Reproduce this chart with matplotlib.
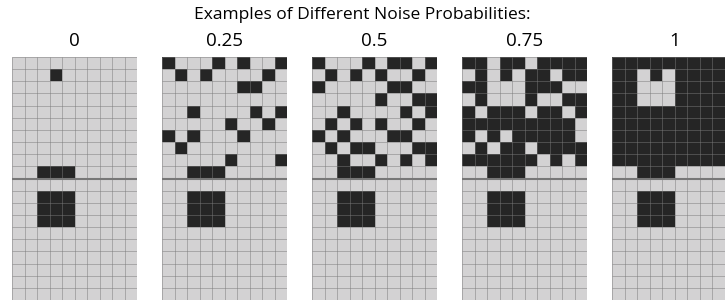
import numpy as np
import matplotlib.pyplot as plt
from matplotlib.colors import ListedColormap

# Probabilidades de ruido (titulos de cada panel)
probs = ['0', '0.25', '0.5', '0.75', '1']

# Mitad superior de cada grilla (10 filas x 10 columnas), '#' = celda oscura
top_p0 = [
    '..........',
    '...#......',
    '..........',
    '..........',
    '..........',
    '..........',
    '..........',
    '..........',
    '..........',
    '..###.....',
]
top_p25 = [
    '#...#.#..#',
    '.#.#....#.',
    '......##..',
    '..........',
    '..#....#.#',
    '.....#..#.',
    '#.#...#...',
    '.#........',
    '.....#...#',
    '..###.....',
]
top_p50 = [
    '#...#.##.#',
    '.#.#.#..#.',
    '#.....##..',
    '.....#..##',
    '..#....#.#',
    '.#.#.#..#.',
    '#.#...##..',
    '.#.##...##',
    '..#..#.#.#',
    '..###.....',
]
top_p75 = [
    '##.##.####',
    '.#.#.##.##',
    '##...###..',
    '.#...#..##',
    '#.###.##.#',
    '#########.',
    '#.#.#####.',
    '.#.##.####',
    '######.#.#',
    '..###.....',
]
top_p100 = [
    '##########',
    '##.#.#####',
    '##...#####',
    '##...#####',
    '##########',
    '##########',
    '##########',
    '##########',
    '##########',
    '..###.....',
]

# Mitad inferior, igual en todos los paneles
bottom = [
    '..........',
    '..###.....',
    '..###.....',
    '..###.....',
    '..........',
    '..........',
    '..........',
    '..........',
    '..........',
    '..........',
]

tops = [top_p0, top_p25, top_p50, top_p75, top_p100]


def to_array(rows):
    return np.array([[1 if c == '#' else 0 for c in r] for r in rows])


cmap = ListedColormap(['#d3d2d3', '#252525'])

W, H = 725, 302
fig = plt.figure(figsize=(W / 100, H / 100), dpi=100)

fig.text(362 / W, 1 - 15 / H, 'Examples of Different Noise Probabilities:',
         ha='center', va='center', fontsize=12.5, family='Open Sans')

for i, (p, top) in enumerate(zip(probs, tops)):
    grid = to_array(top + bottom)
    nr, nc = grid.shape
    left = 12 + 150 * i
    ax = fig.add_axes([left / W, 2 / H, 125 / W, 243 / H])
    ax.pcolormesh(grid, cmap=cmap, vmin=0, vmax=1, edgecolors='none')
    # lineas de la grilla, semitransparentes para que se vean en ambos tonos
    ax.hlines(np.arange(nr + 1), 0, nc, color='#797979', alpha=0.57, lw=0.6)
    ax.vlines(np.arange(nc + 1), 0, nr, color='#797979', alpha=0.57, lw=0.6)
    ax.axhline(10, color='#777777', lw=1.5)
    ax.set_xlim(0, nc)
    ax.set_ylim(nr, 0)
    ax.set_xticks([])
    ax.set_yticks([])
    for s in ax.spines.values():
        s.set_visible(False)
    fig.text((left + 62.5) / W, 1 - 41 / H, p,
             ha='center', va='center', fontsize=13.5, family='Open Sans')

fig.savefig('out.png', dpi=100)
